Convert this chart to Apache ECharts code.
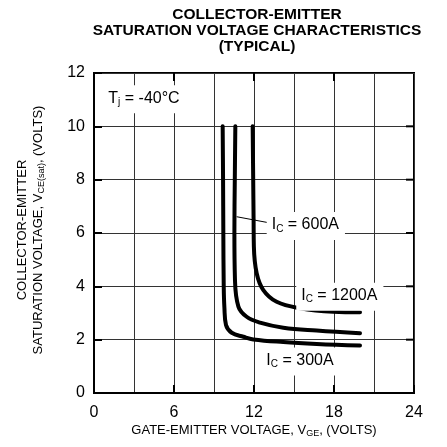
<!DOCTYPE html>
<html>
<head>
<meta charset="utf-8">
<script src="https://cdn.jsdelivr.net/npm/echarts@6/dist/echarts.min.js"></script>
<style>
  html, body { margin: 0; padding: 0; background: #fff; }
  #chart { width: 447px; height: 447px; }
</style>
</head>
<body>
<div id="chart"></div>
<script>
// V_GE (x) / V_CE(sat) (y) pairs, Tj = -40°C
const ic300 = [[9.65, 10], [9.68, 8], [9.7, 6], [9.73, 4], [9.78, 3.2], [9.9, 2.55], [10.33, 2.26],
  [11.2, 2.11], [11.95, 2.01], [14.2, 1.91], [16.7, 1.84], [19.95, 1.78]]
const ic600 = [[10.6, 10], [10.56, 8], [10.53, 6], [10.57, 4.3], [10.83, 3.24], [11.45, 2.86],
  [12.45, 2.64], [14.2, 2.45], [16.7, 2.34], [19.95, 2.24]]
const ic1200 = [[11.9, 10], [11.94, 8], [11.97, 6.5], [11.99, 5.5], [12.2, 4.49], [12.7, 3.86],
  [13.7, 3.42], [15.45, 3.18], [17.95, 3.05], [19.95, 3.03]]

// leader from the 600A curve to its label
const leader600 = [[10.7, 6.61], [13.05, 6.39]]

// annotations: main letter, subscript, rest, and where they sit (data coords)
const noteMain = ['I', 'I', 'I', 'T']
const noteSub = ['C', 'C', 'C', 'j']
const noteRest = [' = 600A', ' = 1200A', ' = 300A', ' = -40°C']
const notePos = [[15.85, 6.3], [18.4, 3.65], [15.45, 1.22], [3.75, 11.05]]

const xTicks = [0, 24, 6]   // min, max, labelled step
const yTicks = [0, 12, 2]
// inner ticks repeated on the top and right edges of the frame
const topTicks = [6, 12, 18]
const rightTicks = [2, 4, 6, 8, 10]

const font = '"Liberation Sans", Arial, Helvetica, sans-serif'

const ctx = document.createElement('canvas').getContext('2d')
function tw(text, size) {
  ctx.font = size + 'px ' + font
  return ctx.measureText(text).width
}

const chart = echarts.init(document.getElementById('chart'))

function curve(name, data) {
  return {
    name: name,
    type: 'line',
    data: data,
    smooth: 0.4,
    showSymbol: false,
    silent: true,
    lineStyle: { color: '#000', width: 4, cap: 'round' },
    z: 3
  }
}

function txt(x, y, text, size, extra) {
  return Object.assign({
    type: 'text', x: x, y: y, silent: true,
    style: { text: text, fontSize: size, fontFamily: font, fill: '#000', align: 'left', verticalAlign: 'middle' }
  }, extra || {})
}

chart.setOption({
  animation: false,
  backgroundColor: '#fff',
  title: {
    text: 'COLLECTOR-EMITTER\nSATURATION VOLTAGE CHARACTERISTICS\n(TYPICAL)',
    left: 257,
    top: 7,
    padding: 0,
    textAlign: 'center',
    textStyle: { fontSize: 15.5, fontWeight: 'bold', fontFamily: font, color: '#000', lineHeight: 16 }
  },
  grid: {
    left: 94, right: 33, top: 73, bottom: 54,
    outerBoundsMode: 'none',
    show: true, borderColor: '#000', borderWidth: 2, backgroundColor: 'transparent'
  },
  xAxis: {
    type: 'value',
    min: xTicks[0],
    max: xTicks[1],
    interval: xTicks[2],
    axisLine: { show: true, onZero: false, lineStyle: { color: '#000', width: 2 } },
    axisTick: { show: true, inside: true, length: 8, lineStyle: { color: '#000', width: 2 } },
    axisLabel: { color: '#000', fontSize: 16, fontFamily: font, margin: 12 },
    splitLine: { show: true, lineStyle: { color: '#333', width: 1 } },
    minorTick: { show: false, splitNumber: 2 },
    minorSplitLine: { show: true, lineStyle: { color: '#333', width: 1 } },
    name: 'GATE-EMITTER VOLTAGE, V{s|GE}, (VOLTS)',
    nameLocation: 'middle',
    nameGap: 30,
    nameMoveOverlap: false,
    nameTextStyle: {
      fontSize: 13, fontFamily: font, color: '#000', lineHeight: 15,
      rich: { s: { fontSize: 9, fontFamily: font, color: '#000', lineHeight: 9, verticalAlign: 'bottom' } }
    }
  },
  yAxis: {
    type: 'value',
    min: yTicks[0],
    max: yTicks[1],
    interval: yTicks[2],
    axisLine: { show: true, onZero: false, lineStyle: { color: '#000', width: 2 } },
    axisTick: { show: true, inside: true, length: 8, lineStyle: { color: '#000', width: 2 } },
    axisLabel: { color: '#000', fontSize: 16, fontFamily: font, margin: 9 },
    splitLine: { show: true, lineStyle: { color: '#333', width: 1 } }
  },
  series: [
    curve('IC = 300A', ic300),
    curve('IC = 600A', ic600),
    curve('IC = 1200A', ic1200),
    {
      type: 'line',
      data: leader600,
      showSymbol: false,
      silent: true,
      lineStyle: { color: '#000', width: 1 },
      z: 4
    }
  ]
})

// y axis title: two rotated lines, the second with a subscript
const yA = 'SATURATION VOLTAGE, V', yB = 'CE(sat)', yC = ', (VOLTS)'
const wA = tw(yA, 13), wB = tw(yB, 9), wC = tw(yC, 13)
const x0 = -(wA + wB + wC) / 2
const yName = {
  type: 'group', x: 30, y: 230, rotation: Math.PI / 2, silent: true,
  children: [
    txt(0, -8, 'COLLECTOR-EMITTER', 13, { style: { text: 'COLLECTOR-EMITTER', fontSize: 13, fontFamily: font, fill: '#000', align: 'center', verticalAlign: 'middle' } }),
    txt(x0, 8, yA, 13),
    txt(x0 + wA, 11.5, yB, 9),
    txt(x0 + wA + wB, 8, yC, 13)
  ]
}

// curve annotations on white boxes, placed through the grid's own scales
const notes = notePos.map((p, i) => {
  const px = chart.convertToPixel({ gridIndex: 0 }, p)
  const w1 = tw(noteMain[i], 16), w2 = tw(noteSub[i], 10), w3 = tw(noteRest[i], 16)
  const w = w1 + w2 + w3
  const left = -w / 2
  return {
    type: 'group', x: px[0], y: px[1], z: 50, silent: true,
    children: [
      { type: 'rect', shape: { x: left - 5, y: -13, width: w + 11, height: 28 }, style: { fill: '#fff' }, z: 50 },
      txt(left, 0, noteMain[i], 16, { z: 51 }),
      txt(left + w1, 4, noteSub[i], 10, { z: 51 }),
      txt(left + w1 + w2, 0, noteRest[i], 16, { z: 51 })
    ]
  }
})

// inward ticks on the top and right edges
const tickStyle = { stroke: '#000', lineWidth: 2 }
const topY = chart.convertToPixel({ gridIndex: 0 }, [0, yTicks[1]])[1]
const rightX = chart.convertToPixel({ gridIndex: 0 }, [xTicks[1], 0])[0]
const edgeTicks = topTicks.map(v => {
  const x = chart.convertToPixel({ gridIndex: 0 }, [v, 0])[0]
  return { type: 'line', silent: true, z: 40, shape: { x1: x, y1: topY, x2: x, y2: topY + 8 }, style: tickStyle }
}).concat(rightTicks.map(v => {
  const y = chart.convertToPixel({ gridIndex: 0 }, [0, v])[1]
  return { type: 'line', silent: true, z: 40, shape: { x1: rightX - 8, y1: y, x2: rightX, y2: y }, style: tickStyle }
}))

chart.setOption({ graphic: [yName].concat(notes, edgeTicks) })

window.addEventListener('resize', () => chart.resize())
</script>
</body>
</html>
